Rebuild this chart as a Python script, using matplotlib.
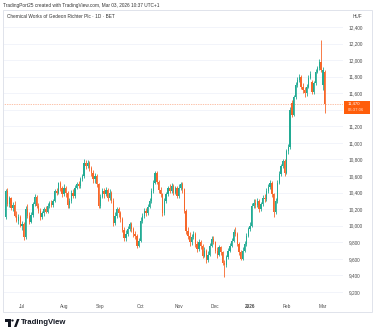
import numpy as np
import pandas as pd
import matplotlib
matplotlib.use("Agg")
import matplotlib.pyplot as plt
from matplotlib.patches import Rectangle, Polygon, Circle

plt.rcParams['font.family'] = ['Liberation Sans', 'DejaVu Sans']

# daily bars, Budapest Stock Exchange (holidays removed)
holidays = ['2025-08-20', '2025-10-23', '2025-10-24', '2025-12-24', '2025-12-25',
            '2025-12-26', '2025-12-31', '2026-01-01', '2026-01-02']
dates = pd.bdate_range('2025-06-18', '2026-03-03')
dates = dates[~dates.isin(pd.to_datetime(holidays))]

opens = [10100, 10420, 10260, 10330, 10210, 10250, 10120, 10060, 10110,
         10000, 10020, 9860, 10200, 10120, 10050, 10130, 10260, 10350, 10240, 10180, 10100, 10150,
         10200, 10170, 10240, 10280, 10250, 10300, 10420, 10400, 10510, 10450,
         10380, 10460, 10390, 10250, 10300, 10400, 10360, 10460, 10500, 10480, 10560, 10600,
         10760, 10720, 10760, 10700, 10640, 10560, 10600, 10500,
         10240, 10350, 10420, 10380, 10430, 10330, 10400, 10300, 10030, 10120, 10200, 10150,
         10080, 9950, 9850, 9900, 9960, 10020, 9960, 9900, 9880, 9760,
         9820, 10060, 10120, 10180, 10150, 10230, 10300, 10420, 10520, 10640, 10530, 10430,
         10380, 10150, 10300, 10380, 10450, 10420, 10480, 10400, 10450,
         10360, 10460, 10500, 10440, 10180, 9940, 9880, 9800, 9860, 9900, 9780, 9720, 9800,
         9750, 9640, 9700, 9580, 9650, 9760, 9840,
         9800, 9700, 9650, 9740, 9680, 9550, 9520, 9620, 9700, 9760, 9820, 9920, 9900, 9780,
         9680, 9600, 9700, 9780, 9880,
         9960, 10000, 10240, 10280, 10250, 10300, 10200, 10260, 10340, 10320, 10420, 10470,
         10520, 10380, 10160, 10300, 10520, 10620, 10720, 10780,
         10640, 10900, 10950, 11480, 11340, 11550, 11700, 11760, 11800, 11680, 11640, 11600,
         11680, 11780, 11740, 11610, 11720, 11860, 11900, 11980,
         11700, 11860]
closes = [10420, 10260, 10330, 10210, 10250, 10120, 10060, 10110, 10000,
          10020, 9860, 10200, 10120, 10050, 10130, 10260, 10350, 10240, 10180, 10100, 10150, 10200,
          10170, 10240, 10280, 10250, 10300, 10420, 10400, 10510, 10450, 10380,
          10460, 10390, 10250, 10300, 10400, 10360, 10460, 10500, 10480, 10560, 10600, 10760,
          10720, 10760, 10700, 10640, 10560, 10600, 10500, 10240,
          10350, 10420, 10380, 10430, 10330, 10400, 10300, 10030, 10120, 10200, 10150, 10080,
          9950, 9850, 9900, 9960, 10020, 9960, 9900, 9880, 9760, 9820,
          10060, 10120, 10180, 10150, 10230, 10300, 10420, 10520, 10640, 10530, 10430, 10380,
          10150, 10300, 10380, 10450, 10420, 10480, 10400, 10450, 10360,
          10460, 10500, 10440, 10180, 9940, 9880, 9800, 9860, 9900, 9780, 9720, 9800, 9750,
          9640, 9700, 9580, 9650, 9760, 9840, 9800,
          9700, 9650, 9740, 9680, 9550, 9520, 9620, 9700, 9760, 9820, 9920, 9900, 9780, 9680,
          9600, 9700, 9780, 9880, 9960,
          10000, 10240, 10280, 10250, 10300, 10200, 10260, 10340, 10320, 10420, 10470, 10520,
          10380, 10160, 10300, 10520, 10620, 10720, 10780, 10640,
          10900, 10950, 11400, 11340, 11550, 11700, 11760, 11800, 11680, 11640, 11600, 11680,
          11780, 11830, 11610, 11720, 11860, 11900, 11980, 11880,
          11880, 11470]
highs = [10440, 10450, 10360, 10350, 10290, 10300, 10180, 10140, 10130,
         10060, 10040, 10240, 10260, 10160, 10160, 10290, 10380, 10370, 10280, 10210, 10180, 10230,
         10240, 10270, 10300, 10310, 10320, 10440, 10460, 10530, 10540, 10480,
         10500, 10480, 10420, 10330, 10430, 10440, 10490, 10530, 10540, 10590, 10630, 10800,
         10790, 10790, 10780, 10720, 10670, 10640, 10630, 10520,
         10380, 10450, 10460, 10470, 10450, 10440, 10420, 10330, 10160, 10230, 10230, 10180,
         10100, 9980, 9950, 10000, 10050, 10040, 9990, 9940, 9900, 9850,
         10100, 10150, 10210, 10220, 10260, 10330, 10450, 10550, 10660, 10660, 10550, 10470,
         10400, 10340, 10410, 10480, 10500, 10510, 10500, 10480, 10480,
         10500, 10530, 10530, 10460, 10200, 9980, 9920, 9900, 9940, 9920, 9820, 9840, 9830,
         9780, 9740, 9720, 9690, 9790, 9880, 9880,
         9820, 9740, 9770, 9760, 9700, 9580, 9650, 9730, 9790, 9850, 9960, 9990, 9920, 9800,
         9710, 9740, 9810, 9910, 9990,
         10040, 10270, 10320, 10320, 10330, 10320, 10290, 10370, 10380, 10450, 10500, 10550,
         10540, 10400, 10340, 10550, 10660, 10740, 10800, 10800,
         10930, 10990, 11430, 11520, 11580, 11740, 11800, 11830, 11820, 11720, 11680, 11710,
         11820, 11870, 11760, 11750, 11890, 11930, 12010, 12240,
         11920, 11880]
lows = [10080, 10240, 10230, 10190, 10180, 10100, 10040, 10020, 9980,
        9950, 9830, 9840, 10090, 10020, 10030, 10110, 10240, 10220, 10150, 10070, 10080, 10120,
        10150, 10150, 10220, 10230, 10230, 10290, 10370, 10380, 10420, 10350,
        10360, 10350, 10220, 10220, 10280, 10330, 10340, 10440, 10450, 10460, 10540, 10580,
        10690, 10700, 10660, 10600, 10520, 10520, 10470, 10220,
        10220, 10330, 10340, 10360, 10300, 10310, 10270, 10000, 10010, 10090, 10110, 10050,
        9920, 9820, 9820, 9880, 9940, 9930, 9860, 9840, 9730, 9740,
        9800, 10030, 10090, 10120, 10130, 10210, 10280, 10400, 10500, 10500, 10400, 10350,
        10120, 10130, 10270, 10360, 10390, 10400, 10370, 10380, 10340,
        10340, 10430, 10400, 10150, 9900, 9840, 9760, 9770, 9840, 9740, 9680, 9700, 9720,
        9610, 9620, 9550, 9560, 9630, 9740, 9780,
        9670, 9610, 9630, 9650, 9520, 9380, 9500, 9600, 9680, 9740, 9800, 9870, 9750, 9650,
        9580, 9580, 9680, 9760, 9860,
        9940, 9990, 10220, 10220, 10230, 10170, 10180, 10240, 10290, 10300, 10400, 10440,
        10350, 10100, 10140, 10280, 10500, 10600, 10700, 10600,
        10620, 10870, 10930, 11310, 11320, 11530, 11680, 11740, 11650, 11600, 11560, 11570,
        11660, 11770, 11590, 11590, 11700, 11840, 11880, 11860,
        11640, 11360]

yticks = np.arange(9200, 12401, 200)
up_color = '#22ab94'
down_color = '#f7672a'
text_color = '#4a4a4a'

W, H = 375, 336
fig = plt.figure(figsize=(W / 100, H / 100), dpi=100)
fig.patch.set_facecolor('white')


def fx(px):
    return px / W


def fy(py):
    return 1 - py / H


# outer frame of the chart panel
fig.patches.append(Rectangle((fx(3), fy(312)), fx(369), 302 / H, transform=fig.transFigure,
                             fill=False, edgecolor='#e0e3eb', linewidth=0.7))

ax = fig.add_axes([fx(3), fy(300), fx(340), 290 / H])
ax.set_facecolor('none')

o = np.array(opens, dtype=float)
c = np.array(closes, dtype=float)
hi = np.array(highs, dtype=float)
lo = np.array(lows, dtype=float)
idx = np.arange(len(c))
colors = np.where(c >= o, up_color, down_color)

ax.vlines(idx, lo, hi, colors=colors, linewidth=0.6, zorder=2)
body = np.abs(c - o)
body = np.maximum(body, 8)
ax.bar(idx, body, bottom=np.minimum(o, c), width=0.7, color=colors, linewidth=0, zorder=3)

# last price line
ax.axhline(c[-1], color=down_color, linewidth=0.5, linestyle=(0, (1, 1.5)), alpha=0.8, zorder=1)

ax.set_xlim(-1.4, 185)
ax.set_ylim(9103, 12605)
for sp in ax.spines.values():
    sp.set_visible(False)

ax.set_yticks(yticks)
ax.yaxis.tick_right()
ax.set_yticklabels([f'{v:,}' for v in yticks], fontsize=3.4, color=text_color)
ax.tick_params(axis='y', length=0, pad=4)
ax.grid(axis='y', color='#f0f3fa', linewidth=0.6, zorder=0)

# month labels at the first bar of each month
month_start = [i for i in range(1, len(dates)) if dates[i].month != dates[i - 1].month]
labels = [d.strftime('%b') if d.month != 1 else str(d.year) for d in dates[month_start]]
ax.set_xticks(month_start)
ax.set_xticklabels(labels, fontsize=3.4, color=text_color)
for t in ax.get_xticklabels():
    if t.get_text().isdigit():
        t.set_fontweight('bold')
ax.tick_params(axis='x', length=0, pad=3)

fig.text(fx(353), fy(16), 'HUF', fontsize=3.4, color=text_color, va='center')

# last price badge
fig.patches.append(Rectangle((fx(344), fy(113.5)), fx(26), 13 / H, transform=fig.transFigure,
                             facecolor='#ff5d0a', edgecolor='none'))
fig.text(fx(347.5), fy(103.5), f'{int(c[-1]):,}', fontsize=3.1, color='white', va='center')
fig.text(fx(347.5), fy(110), '06:37:06', fontsize=3.1, color='#ffe0cc', va='center')

fig.text(fx(3), fy(5.5), 'TradingPort25 created with TradingView.com, Mar 03, 2026 10:37 UTC+1',
         fontsize=3.4, color='#333333', va='center')
fig.text(fx(7), fy(17), 'Chemical Works of Gedeon Richter Plc \u00b7 1D \u00b7 BET',
         fontsize=3.4, color='#333333', va='center')

# TradingView logo
logo = '#131722'
fig.patches.append(Rectangle((fx(5), fy(321.5)), fx(6), 2.5 / H, transform=fig.transFigure,
                             facecolor=logo, edgecolor='none'))
fig.patches.append(Rectangle((fx(8), fy(327)), fx(3), 8 / H, transform=fig.transFigure,
                             facecolor=logo, edgecolor='none'))
fig.patches.append(Circle((fx(12.5), fy(320.5)), 1.2 / W, transform=fig.transFigure,
                          facecolor=logo, edgecolor='none'))
fig.patches.append(Polygon([(fx(14), fy(327)), (fx(17), fy(319)), (fx(19.5), fy(319)),
                            (fx(16.5), fy(327))], closed=True, transform=fig.transFigure,
                           facecolor=logo, edgecolor='none'))
fig.text(fx(20.5), fy(323), 'TradingView', fontsize=5.6, fontweight='bold', color=logo,
         va='center')

fig.savefig('out.png', dpi=100)
